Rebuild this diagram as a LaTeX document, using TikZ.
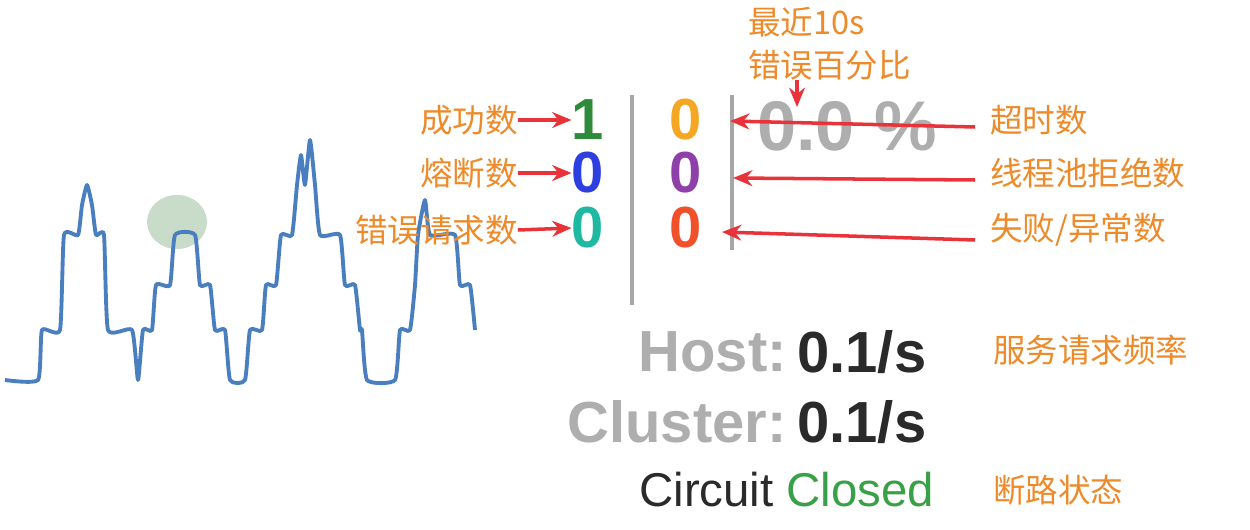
\documentclass[tikz,border=0pt]{standalone}
\usepackage{fontspec}
\setmainfont{Liberation Sans}
\newfontfamily\cjk{Noto Sans CJK SC}
\usetikzlibrary{arrows.meta}
\definecolor{lab}{HTML}{EE8A2A}
\definecolor{arr}{HTML}{E8333A}
\definecolor{wave}{HTML}{4A7FBF}
\definecolor{gnum}{HTML}{2E8B3A}
\definecolor{onum}{HTML}{F5A623}
\definecolor{bnum}{HTML}{2D3FE0}
\definecolor{pnum}{HTML}{8E3FA8}
\definecolor{tnum}{HTML}{1FB8A0}
\definecolor{rnum}{HTML}{F0502A}
\definecolor{gtxt}{HTML}{9A9A9A}
\definecolor{dtxt}{HTML}{2A2A2A}
\definecolor{ctxt}{HTML}{3AA048}
\tikzset{
 px/.style={x=0.02cm,y=-0.02cm},
 cn/.style={font=\cjk\fontsize{18.5}{20}\selectfont, text=lab, inner sep=0pt},
 num/.style={font=\fontsize{33}{34}\selectfont\bfseries, inner sep=0pt},
 ra/.style={arr, line width=2pt, -{Stealth[length=11pt,width=9pt]}},
 stat/.style={font=\fontsize{33}{34}\selectfont\bfseries, inner sep=0pt}
}
\begin{document}
\begin{tikzpicture}[px]
\useasboundingbox (0,0) rectangle (1250,530);
\fill[white] (0,0) rectangle (1250,530);
\fill[green!20!gray!35] (177,222) ellipse [x radius=30, y radius=27];
\draw[wave, line width=2.2pt, line join=round] plot[smooth, tension=0.3] coordinates {(5,380)(38,380)(42,330)(60,330)(64,235)(78,235)(82,205)(87,185)(92,205)(96,235)(104,235)(108,330)(132,330)(138,380)(143,330)(152,330)(156,285)(170,285)(175,235)(195,235)(200,285)(210,285)(215,330)(225,330)(230,380)(245,380)(250,330)(262,330)(266,285)(276,285)(281,235)(292,235)(297,185)(301,155)(305,185)(310,140)(315,185)(320,235)(340,235)(345,285)(355,285)(360,330)(362,330)(367,380)(395,380)(400,330)(410,330)(415,285)(418,235)(425,200)(430,235)(455,235)(460,285)(470,285)(475,330)};
\draw[gray!70, line width=2.5pt] (632,95) -- (632,305);
\draw[gray!70, line width=2.5pt] (732,95) -- (732,250);
\node[num, text=gnum] (n1) at (588,120) {1};
\node[num, text=onum] (n2) at (686,120) {0};
\node[font=\fontsize{40}{41}\selectfont\bfseries, inner sep=0pt, text=gtxt!80, anchor=west] (pct) at (757,126) {0.0 \%};
\node[num, text=bnum] (n3) at (588,173) {0};
\node[num, text=pnum] (n4) at (686,173) {0};
\node[num, text=tnum] (n5) at (588,228) {0};
\node[num, text=rnum] (n6) at (686,228) {0};
\node[cn, anchor=east] (l1) at (518,120) {成功数};
\node[cn, anchor=east] (l2) at (518,173) {熔断数};
\node[cn, anchor=east] (l3) at (518,230) {错误请求数};
\node[cn, anchor=west] (r1) at (990,120) {超时数};
\node[cn, anchor=west] (r2) at (990,173) {线程池拒绝数};
\node[cn, anchor=west] (r3) at (990,230) {失败/异常数};
\node[cn, anchor=west] (t1) at (748,22) {最近10s};
\node[cn, anchor=west] (t2) at (748,65) {错误百分比};
\node[cn, anchor=west] (s1) at (993,350) {服务请求频率};
\node[cn, anchor=west] (s2) at (993,490) {断路状态};
\coordinate (c1) at (975,127);
\coordinate (c2) at (975,180);
\coordinate (c3) at (975,240);
\coordinate (pt) at (797,107);
\draw[ra] (l1.east) -- (n1.west);
\draw[ra] (l2.east) -- (n3.west);
\draw[ra] (l3.east) -- (n5.west);
\draw[ra] (c1) -- (730,121);
\draw[ra] (c2) -- (733,178);
\draw[ra] (c3) -- (722,232);
\draw[ra] (797,80) -- (pt);
\node[stat, text=gtxt!80, anchor=east] (h1) at (787,352) {Host:};
\node[stat, text=dtxt, anchor=west] (h2) at (797,352) {0.1/s};
\node[stat, text=gtxt!80, anchor=east] (k1) at (787,422) {Cluster:};
\node[stat, text=dtxt, anchor=west] (k2) at (797,422) {0.1/s};
\node[font=\fontsize{27}{28}\selectfont, text=dtxt, anchor=east, inner sep=0pt] (q1) at (774,490) {Circuit};
\node[font=\fontsize{27}{28}\selectfont, text=ctxt, anchor=west, inner sep=0pt] (q2) at (786,490) {Closed};
\end{tikzpicture}
\end{document}
